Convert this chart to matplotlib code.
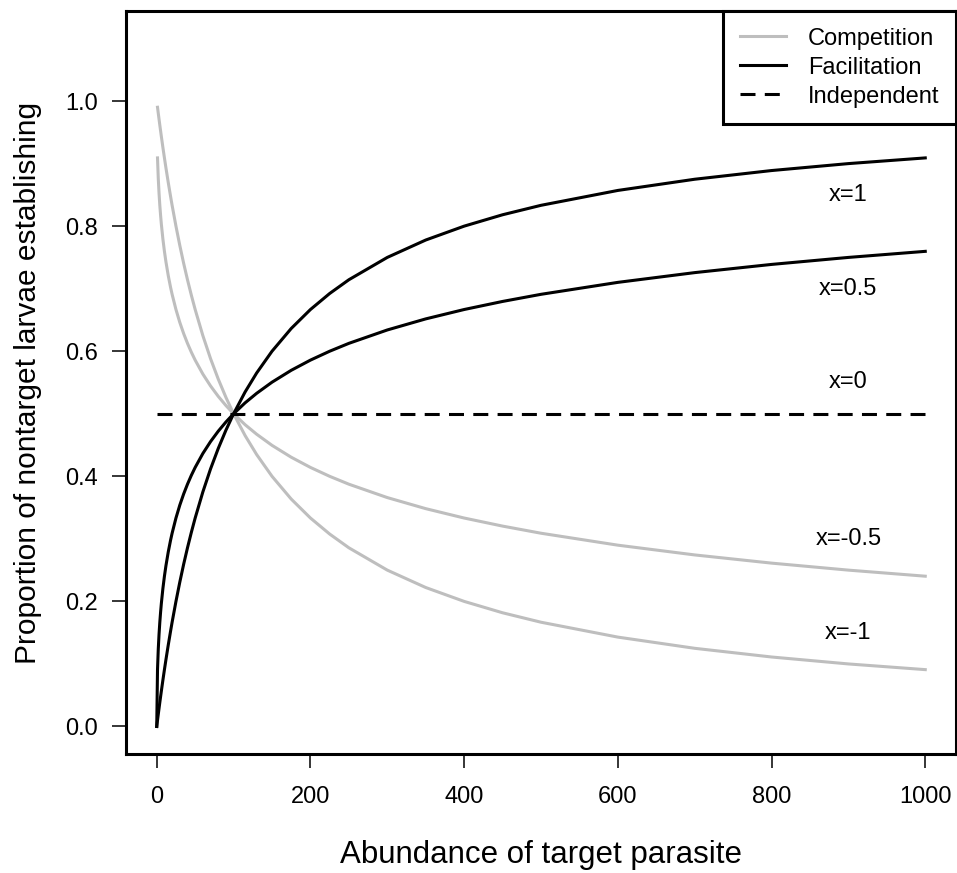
import matplotlib
matplotlib.use("Agg")
import matplotlib.pyplot as plt

plt.rcParams['font.family'] = ['Liberation Sans', 'DejaVu Sans']
plt.rcParams['lines.scale_dashes'] = False

# abundance of target parasite (x axis)
abundance_comp = [1, 2, 3, 4, 5, 6, 8, 10, 12, 15, 18, 20, 25, 30, 35, 40, 45, 50, 60, 70,
                  80, 90, 100, 115, 130, 150, 175, 200, 225, 250, 300, 350, 400, 450, 500,
                  600, 700, 800, 900, 1000]
abundance_fac = [0] + abundance_comp

# facilitation curves
fac_x1 = [0.0, 0.0099, 0.0196, 0.0291, 0.0385, 0.0476, 0.0566, 0.0741, 0.0909, 0.1071, 0.1304,
          0.1525, 0.1667, 0.2, 0.2308, 0.2593, 0.2857, 0.3103, 0.3333, 0.375, 0.4118,
          0.4444, 0.4737, 0.5, 0.5349, 0.5652, 0.6, 0.6364, 0.6667, 0.6923, 0.7143,
          0.75, 0.7778, 0.8, 0.8182, 0.8333, 0.8571, 0.875, 0.8889, 0.9, 0.9091]
fac_x05 = [0.0, 0.0909, 0.1239, 0.1476, 0.1667, 0.1827, 0.1968, 0.2205, 0.2403, 0.2573, 0.2792,
           0.2979, 0.3090, 0.3333, 0.3539, 0.3717, 0.3874, 0.4015, 0.4142, 0.4365, 0.4555,
           0.4721, 0.4868, 0.5, 0.5175, 0.5327, 0.5505, 0.5695, 0.5858, 0.6, 0.6126,
           0.6340, 0.6517, 0.6667, 0.6796, 0.6910, 0.7101, 0.7257, 0.7388, 0.75, 0.7597]

# competition curves
comp_xm1 = [0.9901, 0.9804, 0.9709, 0.9615, 0.9524, 0.9434, 0.9259, 0.9091, 0.8929, 0.8696,
            0.8475, 0.8333, 0.8, 0.7692, 0.7407, 0.7143, 0.6897, 0.6667, 0.625, 0.5882,
            0.5556, 0.5263, 0.5, 0.4651, 0.4348, 0.4, 0.3636, 0.3333, 0.3077, 0.2857,
            0.25, 0.2222, 0.2, 0.1818, 0.1667, 0.1429, 0.125, 0.1111, 0.1, 0.0909]
comp_xm05 = [0.9091, 0.8761, 0.8524, 0.8333, 0.8173, 0.8032, 0.7795, 0.7597, 0.7427, 0.7208,
             0.7021, 0.6910, 0.6667, 0.6461, 0.6283, 0.6126, 0.5985, 0.5858, 0.5635, 0.5445,
             0.5279, 0.5132, 0.5, 0.4825, 0.4673, 0.4495, 0.4305, 0.4142, 0.4, 0.3874,
             0.3660, 0.3483, 0.3333, 0.3204, 0.3090, 0.2899, 0.2743, 0.2612, 0.25, 0.2403]

# independent
indep_x = [0, 1000]
indep_y = [0.5, 0.5]

# curve labels
label_text = ["x=1", "x=0.5", "x=0", "x=-0.5", "x=-1"]
label_x = [900, 900, 900, 900, 900]
label_y = [0.85, 0.70, 0.55, 0.30, 0.15]

fig = plt.figure(figsize=(9.57, 8.73), dpi=100)
ax = fig.add_axes([126 / 957, 119 / 873, 830 / 957, 743 / 873])

lw = 2.2
grey = "#BEBEBE"
ax.plot(abundance_comp, comp_xm1, color=grey, lw=lw, label="Competition")
ax.plot(abundance_comp, comp_xm05, color=grey, lw=lw)
ax.plot(abundance_fac, fac_x1, color="black", lw=lw, label="Facilitation")
ax.plot(abundance_fac, fac_x05, color="black", lw=lw)
ax.plot(indep_x, indep_y, color="black", lw=lw, dashes=(10.8, 6.69), label="Independent")

for t, x, y in zip(label_text, label_x, label_y):
    ax.text(x, y, t, ha="center", va="center", fontsize=17)

ax.set_xlim(-40, 1040)
ax.set_ylim(-0.044, 1.144)
ax.set_xticks([0, 200, 400, 600, 800, 1000])
ax.set_yticks([0.0, 0.2, 0.4, 0.6, 0.8, 1.0])
ax.set_yticklabels(["0.0", "0.2", "0.4", "0.6", "0.8", "1.0"])

for s in ax.spines.values():
    s.set_linewidth(2.2)
ax.tick_params(axis="both", direction="out", length=10, width=1.1, labelsize=17)
ax.tick_params(axis="x", pad=13)
ax.tick_params(axis="y", pad=10)

ax.set_xlabel("Abundance of target parasite", fontsize=22.5, va="top")
ax.xaxis.set_label_coords(0.5, -0.116)
ax.set_ylabel("Proportion of nontarget larvae establishing", fontsize=21.5)
ax.yaxis.set_label_coords(-0.101, 0.5)

leg = ax.legend(loc="upper right", bbox_to_anchor=(1, 1), borderaxespad=0,
                fontsize=17, fancybox=False, framealpha=1, edgecolor="black",
                handlelength=1.95, handletextpad=0.95, labelspacing=0.3, borderpad=0.7)
leg.get_frame().set_linewidth(2.2)

fig.savefig("out.png", dpi=100)
